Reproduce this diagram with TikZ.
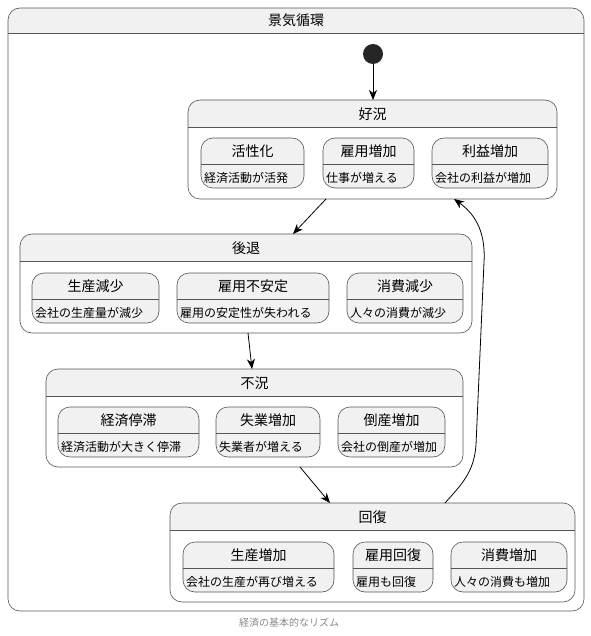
\documentclass[tikz,border=0pt]{standalone}
\usepackage{fontspec}
\setmainfont{Noto Sans CJK JP}
\usepackage{xcolor}
\usepackage{tikz}
\usetikzlibrary{shapes,positioning,arrows.meta}

\definecolor{line}{RGB}{85,85,85}
\definecolor{stfill}{RGB}{241,241,241}
\definecolor{capgray}{RGB}{136,136,136}

\begin{document}
\begin{tikzpicture}[%
  x=1pt, y=-1pt,
  comp/.style={draw=line,fill=white,line width=0.6pt,rounded corners=12pt,
    anchor=north west,outer sep=0pt,inner sep=0pt,
    path picture={%
      \fill[stfill,sharp corners] (path picture bounding box.north west)
        rectangle ([yshift=-#1]path picture bounding box.north east);
      \draw[line,line width=0.6pt,sharp corners]
        ([yshift=-#1]path picture bounding box.north west)
        -- ([yshift=-#1]path picture bounding box.north east);}},
  comp/.default=27pt,
  sub/.style={draw=line,fill=stfill,line width=0.6pt,rounded corners=12pt,
    anchor=north west,outer sep=0pt,inner sep=0pt,minimum height=50pt,
    path picture={%
      \draw[line,line width=0.6pt,sharp corners]
        ([yshift=-26pt]path picture bounding box.north west)
        -- ([yshift=-26pt]path picture bounding box.north east);}},
  ttl/.style={font=\fontsize{14pt}{16pt}\selectfont,inner sep=0pt},
  desc/.style={font=\fontsize{12pt}{14pt}\selectfont,anchor=west,inner sep=0pt},
  arr/.style={-{Stealth[length=10pt,width=8pt,inset=3pt]},line width=0.8pt,black}
]
\useasboundingbox (0,0) rectangle (590,636);

% frame
\node (keiki) [comp=25pt, minimum width=576pt, minimum height=603pt] at (8,8) {};
\node (keiki-t) [ttl] at ([yshift=-12.5pt]keiki.north) {景気循環};

\node (start) [circle, fill=black!85, minimum size=20pt, inner sep=0pt] at (373,54) {};

% composite states
\node (koukyou) [comp, minimum width=369pt, minimum height=99pt] at (188,100) {};
\node (koukyou-t) [ttl] at ([yshift=-14pt]koukyou.north) {好況};
\node (koutai) [comp, minimum width=452pt, minimum height=99pt] at (20,234) {};
\node (koutai-t) [ttl] at ([yshift=-14pt]koutai.north) {後退};
\node (fukyou) [comp, minimum width=417pt, minimum height=98pt] at (46,369) {};
\node (fukyou-t) [ttl] at ([yshift=-14pt]fukyou.north) {不況};
\node (kaifuku) [comp, minimum width=405pt, minimum height=99pt] at (170,503) {};
\node (kaifuku-t) [ttl] at ([yshift=-14pt]kaifuku.north) {回復};

% inner states
\node (kasseika) [sub, minimum width=103pt] at (201,138) {};
\node (kasseika-t) [ttl] at ([yshift=-13pt]kasseika.north) {活性化};
\node (kasseika-d) [desc] at ([xshift=3pt,yshift=-39.5pt]kasseika.north west) {経済活動が活発};
\node (koyou-zouka) [sub, minimum width=91pt] at (323,138) {};
\node (koyou-zouka-t) [ttl] at ([yshift=-13pt]koyou-zouka.north) {雇用増加};
\node (koyou-zouka-d) [desc] at ([xshift=3pt,yshift=-39.5pt]koyou-zouka.north west) {仕事が増える};
\node (rieki-zouka) [sub, minimum width=116pt] at (432,138) {};
\node (rieki-zouka-t) [ttl] at ([yshift=-13pt]rieki-zouka.north) {利益増加};
\node (rieki-zouka-d) [desc] at ([xshift=3pt,yshift=-39.5pt]rieki-zouka.north west) {会社の利益が増加};

\node (seisan-genshou) [sub, minimum width=127pt] at (32,273) {};
\node (seisan-genshou-t) [ttl] at ([yshift=-13pt]seisan-genshou.north) {生産減少};
\node (seisan-genshou-d) [desc] at ([xshift=3pt,yshift=-39.5pt]seisan-genshou.north west) {会社の生産量が減少};
\node (koyou-fuantei) [sub, minimum width=152pt] at (177,273) {};
\node (koyou-fuantei-t) [ttl] at ([yshift=-13pt]koyou-fuantei.north) {雇用不安定};
\node (koyou-fuantei-d) [desc] at ([xshift=3pt,yshift=-39.5pt]koyou-fuantei.north west) {雇用の安定性が失われる};
\node (shouhi-genshou) [sub, minimum width=116pt] at (347,273) {};
\node (shouhi-genshou-t) [ttl] at ([yshift=-13pt]shouhi-genshou.north) {消費減少};
\node (shouhi-genshou-d) [desc] at ([xshift=3pt,yshift=-39.5pt]shouhi-genshou.north west) {人々の消費が減少};

\node (keizai-teitai) [sub, minimum width=141pt] at (58,407) {};
\node (keizai-teitai-t) [ttl] at ([yshift=-13pt]keizai-teitai.north) {経済停滞};
\node (keizai-teitai-d) [desc] at ([xshift=3pt,yshift=-39.5pt]keizai-teitai.north west) {経済活動が大きく停滞};
\node (shitsugyou-zouka) [sub, minimum width=104pt] at (216,407) {};
\node (shitsugyou-zouka-t) [ttl] at ([yshift=-13pt]shitsugyou-zouka.north) {失業増加};
\node (shitsugyou-zouka-d) [desc] at ([xshift=3pt,yshift=-39.5pt]shitsugyou-zouka.north west) {失業者が増える};
\node (tousan-zouka) [sub, minimum width=107pt] at (338,407) {};
\node (tousan-zouka-t) [ttl] at ([yshift=-13pt]tousan-zouka.north) {倒産増加};
\node (tousan-zouka-d) [desc] at ([xshift=3pt,yshift=-39.5pt]tousan-zouka.north west) {会社の倒産が増加};

\node (seisan-zouka) [sub, minimum width=151pt] at (183,542) {};
\node (seisan-zouka-t) [ttl] at ([yshift=-13pt]seisan-zouka.north) {生産増加};
\node (seisan-zouka-d) [desc] at ([xshift=3pt,yshift=-39.5pt]seisan-zouka.north west) {会社の生産が再び増える};
\node (koyou-kaifuku) [sub, minimum width=80pt] at (353,542) {};
\node (koyou-kaifuku-t) [ttl] at ([yshift=-13pt]koyou-kaifuku.north) {雇用回復};
\node (koyou-kaifuku-d) [desc] at ([xshift=3pt,yshift=-39.5pt]koyou-kaifuku.north west) {雇用も回復};
\node (shouhi-zouka) [sub, minimum width=116pt] at (451,542) {};
\node (shouhi-zouka-t) [ttl] at ([yshift=-13pt]shouhi-zouka.north) {消費増加};
\node (shouhi-zouka-d) [desc] at ([xshift=3pt,yshift=-39.5pt]shouhi-zouka.north west) {人々の消費も増加};

% transitions
\draw [arr] (start.south) -- (start.south |- koukyou.north);
\draw [arr] ([xshift=-46.5pt]koukyou.south) -- ([xshift=47pt]koutai.north);
\draw [arr] ([xshift=2pt]koutai.south) -- ([xshift=-2.5pt]fukyou.north);
\draw [arr] ([xshift=45.5pt]fukyou.south) -- ([xshift=-42.5pt]kaifuku.north);
\draw [arr] ([xshift=72.5pt]kaifuku.north) .. controls (462,484) and (474,472) .. (476,445)
  -- (484,262) .. controls (486,228) and (472,212) .. ([xshift=81.5pt]koukyou.south);

\node (caption) [font=\fontsize{10pt}{12pt}\selectfont, text=capgray] at (289,623) {経済の基本的なリズム};
\end{tikzpicture}
\end{document}
